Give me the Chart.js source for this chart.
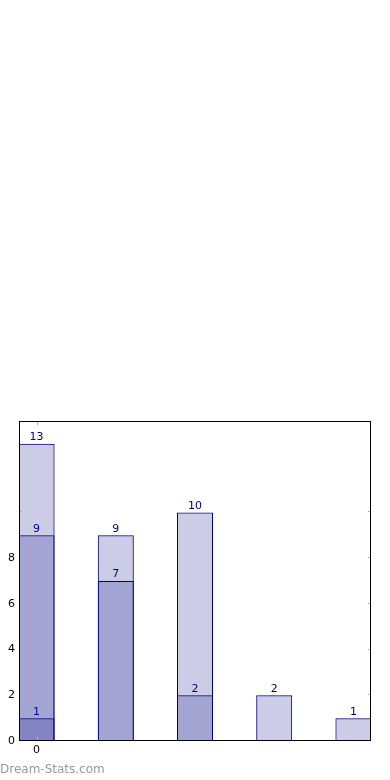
<!DOCTYPE html>
<html>
<head>
<meta charset="utf-8">
<script src="https://cdn.jsdelivr.net/npm/chart.js@4"></script>
<style>
	html, body { margin: 0; padding: 0; background: #fff; }
	#box { position: relative; width: 390px; height: 780px; }
	#marca { position: absolute; left: 0; top: 762px; font: 12px "DejaVu Sans", sans-serif; color: #999; }
</style>
</head>
<body>
<div id="box">
	<canvas id="grafico" width="390" height="780"></canvas>
	<div id="marca">Dream-Stats.com</div>
</div>
<script>
// dati
const posizioni = [0, 1, 2, 3, 4];
const totali = [13, 9, 10, 2, 1];
const medi = [9, 7, 2, null, null];
const bassi = [1, null, null, null, null];
const yTicks = [0, 2, 4, 6, 8];

(function(){
	const blu = '#000080';
	const riempi = 'rgba(0,0,128,0.2)';

	function punti(valori){
		return valori.map((v, i) => ({ x: posizioni[i], y: v }));
	}

	// cornice, tacche grigie ed etichette dei valori
	const decorazioni = {
		id: 'decorazioni',
		afterDatasetsDraw(chart){
			const ctx = chart.ctx;
			const a = chart.chartArea;
			const ys = chart.scales.y, xs = chart.scales.x;
			ctx.save();
			ctx.strokeStyle = '#b0b0b0';
			ctx.lineWidth = 1;
			for(let v = 0; v <= 10; v += 2){
				const py = Math.round(ys.getPixelForValue(v)) - 0.5;
				ctx.beginPath();
				ctx.moveTo(a.left, py); ctx.lineTo(a.left + 3, py);
				ctx.moveTo(a.right, py); ctx.lineTo(a.right - 3, py);
				ctx.stroke();
			}
			const px = Math.round(xs.getPixelForValue(0)) + 0.5;
			ctx.beginPath();
			ctx.moveTo(px, a.top); ctx.lineTo(px, a.top + 4);
			ctx.moveTo(px, a.bottom); ctx.lineTo(px, a.bottom - 4);
			ctx.stroke();

			ctx.strokeStyle = '#000';
			ctx.strokeRect(a.left + 0.5, a.top + 0.5, a.right - a.left - 1, a.bottom - a.top - 1);

			ctx.fillStyle = blu;
			ctx.font = '11px "DejaVu Sans", sans-serif';
			ctx.textAlign = 'center';
			ctx.textBaseline = 'bottom';
			chart.data.datasets.forEach((ds, di) => {
				chart.getDatasetMeta(di).data.forEach((el, i) => {
					const v = ds.data[i].y;
					if(v === null || v === undefined) return;
					ctx.fillText(String(v), el.x, el.y - 1);
				});
			});
			ctx.restore();
		}
	};

	function creaGrafico(){
		const canvas = document.getElementById('grafico');
		const ctx = canvas.getContext('2d');
		const serie = [totali, medi, bassi].map(s => ({
			data: punti(s),
			backgroundColor: riempi,
			borderColor: blu,
			borderWidth: 1,
			borderSkipped: false,
			barPercentage: 0.455,
			categoryPercentage: 1
		}));
		return new Chart(ctx, {
			type: 'bar',
			data: { datasets: serie },
			options: {
				responsive: false,
				animation: false,
				grouped: false,
				layout: { padding: { top: 421, left: 0, right: 19, bottom: 19 } },
				scales: {
					x: {
						type: 'linear',
						min: -0.222,
						max: 4.222,
						offset: false,
						grid: { display: false, drawTicks: false },
						border: { display: false },
						afterBuildTicks(s){ s.ticks = [{ value: 0 }]; },
						afterFit(s){ s.height = 20; },
						ticks: {
							color: '#000',
							padding: 3,
							font: { family: 'DejaVu Sans', size: 11 },
							callback: v => String(v)
						}
					},
					y: {
						min: 0,
						max: 14,
						grid: { display: false, drawTicks: false },
						border: { display: false },
						afterBuildTicks(s){ s.ticks = yTicks.map(v => ({ value: v })); },
						afterFit(s){ s.width = 19; },
						ticks: {
							color: '#000',
							padding: 4,
							font: { family: 'DejaVu Sans', size: 11 }
						}
					}
				},
				plugins: {
					legend: { display: false },
					tooltip: { enabled: false }
				}
			},
			plugins: [decorazioni]
		});
	}

	creaGrafico();
})();
</script>
</body>
</html>
